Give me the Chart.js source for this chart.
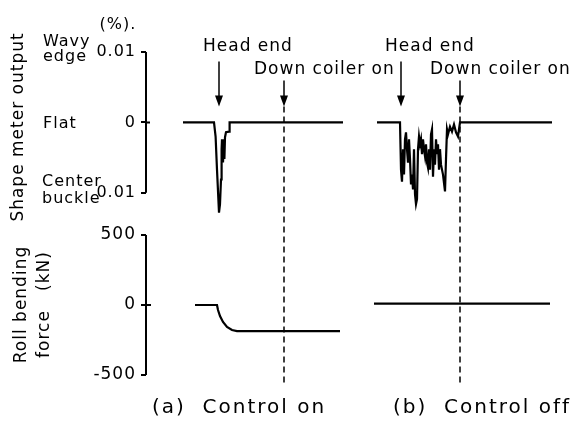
<!DOCTYPE html>
<html>
<head>
<meta charset="utf-8">
<script src="https://cdn.jsdelivr.net/npm/chart.js@4"></script>
<style>
  body { margin: 0; background: #fff; }
  canvas { display: block; }
</style>
</head>
<body>
<canvas id="rollChart" width="586" height="423"></canvas>
<script>
// shared time axis (arbitrary units) - run (a) on the left, run (b) on the right
const shapeTimeA = [9.25, 17, 17.4, 17.75, 18.25, 18.5, 18.75, 18.9, 19, 19.25, 19.5, 19.6, 19.75, 20, 20.75, 20.9, 49.25];
const shapeValueA = [0, 0, -0.002, -0.0067, -0.0128, -0.0116, -0.0081, -0.0038, -0.0024, -0.0057, -0.0024, -0.0052, -0.0021, -0.0014, -0.0013, 0, 0];

const shapeTimeB = [57.75, 63.5, 63.75, 64, 64.25, 64.5, 64.75, 65, 65.25, 65.5, 65.75, 66, 66.25, 66.5, 66.75, 67,
  67.25, 67.5, 67.75, 68, 68.25, 68.5, 68.75, 69, 69.25, 69.5, 69.75, 70, 70.25, 70.5, 70.75, 71, 71.25, 71.5,
  71.75, 72, 72.25, 72.5, 72.75, 73, 73.25, 73.5, 73.75, 74.25, 74.75, 75, 75.25, 75.5, 76, 76.5, 77, 77.5, 78,
  78.25, 78.5, 101.5];
const shapeValueB = [0, 0, -0.0067, -0.0084, -0.0038, -0.0074, -0.0024, -0.0014, -0.0038, -0.0057, -0.0024, -0.0052,
  -0.0088, -0.0074, -0.0095, -0.0038, -0.0102, -0.0116, -0.0109, -0.0038, -0.002, -0.0031, -0.0024, -0.0045,
  -0.0024, -0.0038, -0.0048, -0.0031, -0.0057, -0.0064, -0.0038, -0.0067, -0.0017, -0.001, -0.0077, -0.0038,
  -0.006, -0.0024, -0.0045, -0.0031, -0.0067, -0.0038, -0.006, -0.0074, -0.0098, -0.0052, -0.001, -0.0017,
  -0.0006, -0.0013, -0.0003, -0.0014, -0.002, -0.001, 0, 0];

const forceTimeA = [12.25, 17.75, 18, 18.5, 19.25, 20.25, 21.5, 22.75, 48.5];
const forceValueA = [0, 0, -36, -79, -121, -157, -179, -186, -186];
const forceTimeB = [57, 101];
const forceValueB = [10, 10];

const headEndTimes = [18.25, 63.75];
const coilerOnTimes = [34.5, 78.5];
const runLabels = ['(a)  Control on', '(b)  Control off'];

const shapeTicks = [-0.01, 0, 0.01];
const forceTicks = [-500, 0, 500];

function toPoints(xs, ys) {
    return xs.map(function(x, i) { return { x: x, y: ys[i] }; });
}

function traceSet(xs, ys, axis) {
    return {
        data: toPoints(xs, ys),
        yAxisID: axis,
        showLine: true,
        borderColor: '#000',
        borderWidth: 2.2,
        pointRadius: 0,
        tension: 0
    };
}

const FONT = "'DejaVu Sans', sans-serif";

function arrow(ctx, x, yTop, yTip) {
    ctx.beginPath();
    ctx.moveTo(x, yTop);
    ctx.lineTo(x, yTip - 8);
    ctx.stroke();
    ctx.beginPath();
    ctx.moveTo(x - 4, yTip - 11);
    ctx.lineTo(x + 4, yTip - 11);
    ctx.lineTo(x, yTip);
    ctx.closePath();
    ctx.fill();
}

// axis spines, arrows, event markers and side labels
const annotate = {
    id: 'annotate',
    beforeDraw(chart) {
        chart.ctx.letterSpacing = '1px';
    },
    afterDraw(chart) {
        const ctx = chart.ctx;
        const x = chart.scales.x;
        const ys = chart.scales.yShape;
        const yf = chart.scales.yForce;
        const left = chart.chartArea.left;
        const zero = ys.getPixelForValue(0);
        const fZero = yf.getPixelForValue(0);

        ctx.save();
        ctx.strokeStyle = '#000';
        ctx.fillStyle = '#000';
        ctx.lineWidth = 2;

        ctx.beginPath();
        ctx.moveTo(left, ys.getPixelForValue(0.01));
        ctx.lineTo(left, ys.getPixelForValue(-0.01));
        ctx.moveTo(left, yf.getPixelForValue(500));
        ctx.lineTo(left, yf.getPixelForValue(-500));
        ctx.moveTo(left, zero);
        ctx.lineTo(left + 4, zero);
        ctx.moveTo(left, fZero);
        ctx.lineTo(left + 5, fZero);
        ctx.stroke();

        // dashed "down coiler on" markers through both traces
        ctx.lineWidth = 1.5;
        ctx.setLineDash([6, 4]);
        coilerOnTimes.forEach(function(t) {
            const px = x.getPixelForValue(t);
            ctx.beginPath();
            ctx.moveTo(px, zero - 16);
            ctx.lineTo(px, yf.getPixelForValue(-560));
            ctx.stroke();
        });
        ctx.setLineDash([]);

        ctx.lineWidth = 1.5;
        ctx.textBaseline = 'middle';
        ctx.textAlign = 'left';
        ctx.font = '17px ' + FONT;
        headEndTimes.forEach(function(t) {
            const px = x.getPixelForValue(t);
            arrow(ctx, px, zero - 61, zero - 16);
            ctx.fillText('Head end', px - 16, zero - 76);
        });
        coilerOnTimes.forEach(function(t) {
            const px = x.getPixelForValue(t);
            arrow(ctx, px, zero - 42, zero - 16);
            ctx.fillText('Down coiler on', px - 30, zero - 53);
        });

        // side labels for the shape meter axis
        ctx.font = '16px ' + FONT;
        const top = ys.getPixelForValue(0.01);
        const bottom = ys.getPixelForValue(-0.01);
        ctx.fillText('Wavy', 43, top - 10);
        ctx.fillText('edge', 43, top + 5);
        ctx.fillText('Flat', 43, zero + 1);
        ctx.fillText('Center', 42, bottom - 11);
        ctx.fillText('buckle', 42, bottom + 6);
        ctx.textAlign = 'center';
        ctx.fillText('(%).', left - 28, top - 27);

        // run captions
        ctx.font = '20px ' + FONT;
        ctx.letterSpacing = '2px';
        const captionTimes = [23.25, 84];
        runLabels.forEach(function(label, i) {
            ctx.fillText(label, x.getPixelForValue(captionTimes[i]), yf.getPixelForValue(-500) + 33);
        });
        ctx.restore();
    }
};

function axisWidth(scale) {
    scale.width = 146;
}

new Chart(document.getElementById('rollChart'), {
    type: 'scatter',
    data: {
        datasets: [
            traceSet(shapeTimeA, shapeValueA, 'yShape'),
            traceSet(shapeTimeB, shapeValueB, 'yShape'),
            traceSet(forceTimeA, forceValueA, 'yForce'),
            traceSet(forceTimeB, forceValueB, 'yForce')
        ]
    },
    options: {
        responsive: false,
        animation: false,
        layout: { padding: { top: 40, bottom: 28, left: 0, right: 0 } },
        plugins: {
            legend: { display: false },
            tooltip: { enabled: false }
        },
        scales: {
            x: { type: 'linear', display: false, min: 0, max: 110 },
            // left-side stacked axes are laid out in reverse order, so the lower one comes first
            yForce: {
                type: 'linear',
                position: 'left',
                stack: 'traces',
                stackWeight: 181,
                min: -643,
                max: 650,
                afterBuildTicks: function(scale) {
                    scale.ticks = forceTicks.map(function(v) { return { value: v }; });
                },
                afterFit: axisWidth,
                border: { display: false },
                grid: { drawOnChartArea: false, tickLength: 5, color: '#000', lineWidth: 2 },
                ticks: {
                    color: '#000',
                    padding: 5,
                    autoSkip: false,
                    font: { family: FONT, size: 17 }
                },
                title: {
                    display: true,
                    text: ['Roll bending', 'force   (kN)'],
                    color: '#000',
                    font: { family: FONT, size: 17, lineHeight: 1.3 },
                    padding: { top: 11, bottom: 0 }
                }
            },
            yShape: {
                type: 'linear',
                position: 'left',
                stack: 'traces',
                stackWeight: 174,
                min: -0.013,
                max: 0.0117,
                afterBuildTicks: function(scale) {
                    scale.ticks = shapeTicks.map(function(v) { return { value: v }; });
                },
                afterFit: axisWidth,
                border: { display: false },
                grid: { drawOnChartArea: false, tickLength: 5, color: '#000', lineWidth: 2 },
                ticks: {
                    color: '#000',
                    padding: 5,
                    autoSkip: false,
                    font: { family: FONT, size: 16 },
                    callback: function(v) { return v === 0 ? '0' : Math.abs(v).toFixed(2); }
                },
                title: {
                    display: true,
                    text: 'Shape meter output',
                    color: '#000',
                    font: { family: FONT, size: 17, lineHeight: 1.2 },
                    padding: { top: 8, bottom: 0 }
                }
            }
        }
    },
    plugins: [annotate]
});
</script>
</body>
</html>
